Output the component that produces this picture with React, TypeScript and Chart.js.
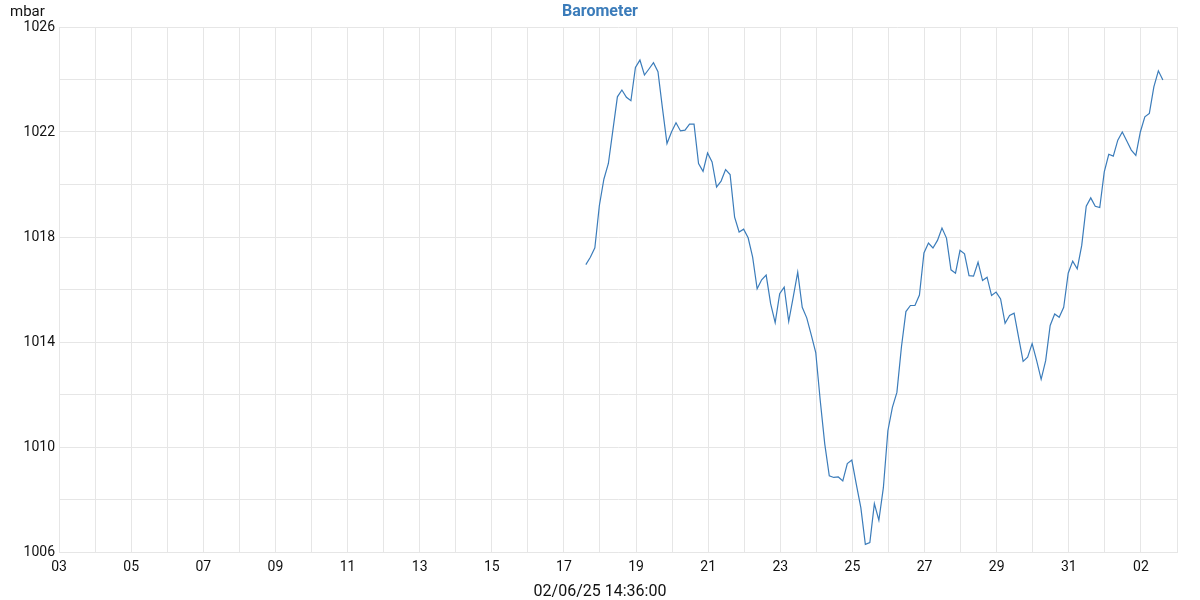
import { useEffect, useRef } from "react";
import { Chart, registerables } from "chart.js";

Chart.register(...registerables);

const TITLE = "Barometer";
const UNIT = "mbar";
const TIMESTAMP = "02/06/25 14:36:00";

// axis window: 3 May 2025 00:00 -> 3 June 2025 00:00
const AXIS_START = new Date(2025, 4, 3, 0, 0);
const AXIS_DAYS = 31;
// first reading and sampling interval
const FIRST_READING = new Date(2025, 4, 17, 14, 36);
const STEP_HOURS = 3;

const Y_MIN = 1006;
const Y_MAX = 1026;

// pressure readings (mbar), every 3 hours
const pressure = [
  1016.95, 1017.23, 1017.59, 1019.2, 1020.2, 1020.8, 1022.07, 1023.34, 1023.6, 1023.32,
  1023.19, 1024.46, 1024.74, 1024.17, 1024.4, 1024.64, 1024.3, 1022.9, 1021.56, 1022.0,
  1022.35, 1022.04, 1022.07, 1022.3, 1022.3, 1020.8, 1020.5, 1021.2, 1020.86, 1019.9,
  1020.13, 1020.57, 1020.38, 1018.76, 1018.19, 1018.3, 1017.97, 1017.23, 1016.03, 1016.37,
  1016.55, 1015.45, 1014.74, 1015.84, 1016.09, 1014.78, 1015.71, 1016.66, 1015.32, 1014.92,
  1014.27, 1013.6, 1011.76, 1010.11, 1008.9, 1008.84, 1008.86, 1008.71, 1009.37, 1009.5,
  1008.58, 1007.69, 1006.29, 1006.36, 1007.84, 1007.21, 1008.45, 1010.62, 1011.51, 1012.08,
  1013.8, 1015.16, 1015.39, 1015.39, 1015.79, 1017.39, 1017.77, 1017.58, 1017.87, 1018.34,
  1017.96, 1016.75, 1016.62, 1017.49, 1017.36, 1016.53, 1016.51, 1017.04, 1016.34, 1016.47,
  1015.77, 1015.9, 1015.64, 1014.71, 1015.01, 1015.1, 1014.18, 1013.26, 1013.42, 1013.94,
  1013.29, 1012.58, 1013.29, 1014.63, 1015.07, 1014.94, 1015.32, 1016.62, 1017.08, 1016.79,
  1017.68, 1019.17, 1019.49, 1019.17, 1019.12, 1020.48, 1021.15, 1021.08, 1021.69, 1022.0,
  1021.66, 1021.31, 1021.11, 1022.0, 1022.58, 1022.71, 1023.72, 1024.33, 1023.98,
];

const DAY_MS = 86400000;
const firstDay = (FIRST_READING.getTime() - AXIS_START.getTime()) / DAY_MS;
const points = pressure.map((v, i) => ({ x: firstDay + (i * STEP_HOURS) / 24, y: v }));

const LINE_COLOR = "#3b7cba";
const GRID_COLOR = "#e6e6e6";
const FONT = "Roboto, 'Noto Sans', sans-serif";

const textPlugin = {
  id: "texts",
  afterDraw(chart: any) {
    const ctx = chart.ctx;
    const w = chart.width;
    ctx.save();
    ctx.textBaseline = "middle";
    ctx.fillStyle = LINE_COLOR;
    ctx.font = `bold 16px ${FONT}`;
    ctx.textAlign = "center";
    ctx.fillText(TITLE, w / 2, 12);
    ctx.fillStyle = "#111";
    ctx.font = `15px ${FONT}`;
    ctx.textAlign = "left";
    ctx.fillText(UNIT, 10, 12);
    ctx.font = `16px ${FONT}`;
    ctx.textAlign = "center";
    ctx.fillText(TIMESTAMP, w / 2, 592);
    ctx.restore();
  },
};

export default function App() {
  const ref = useRef<HTMLCanvasElement | null>(null);
  useEffect(() => {
    if (!ref.current) return;
    const chart = new Chart(ref.current, {
      type: "line",
      data: {
        datasets: [
          {
            data: points,
            borderColor: LINE_COLOR,
            borderWidth: 1.2,
            pointRadius: 0,
            tension: 0,
            fill: false,
          },
        ],
      },
      options: {
        animation: false,
        responsive: false,
        maintainAspectRatio: false,
        layout: { padding: { top: 27, right: 23, left: 0, bottom: 0 } },
        plugins: { legend: { display: false }, tooltip: { enabled: false }, title: { display: false } },
        scales: {
          x: {
            type: "linear",
            min: 0,
            max: AXIS_DAYS,
            afterFit: (s: any) => {
              s.height = 48;
            },
            grid: { color: GRID_COLOR, drawTicks: false, lineWidth: 1 },
            border: { color: GRID_COLOR },
            ticks: {
              stepSize: 1,
              autoSkip: false,
              maxRotation: 0,
              padding: 7,
              color: "#111",
              font: { family: FONT, size: 14 },
              callback: (v: any) => {
                const n = Math.round(Number(v));
                if (n % 2 !== 0) return "";
                const d = new Date(AXIS_START.getTime() + n * DAY_MS + 3600000);
                return String(d.getDate()).padStart(2, "0");
              },
            },
          },
          y: {
            min: Y_MIN,
            max: Y_MAX,
            afterFit: (s: any) => {
              s.width = 59;
            },
            grid: { color: GRID_COLOR, drawTicks: false, lineWidth: 1 },
            border: { color: GRID_COLOR },
            ticks: {
              stepSize: 2,
              autoSkip: false,
              padding: 4,
              color: "#111",
              font: { family: FONT, size: 14 },
              callback: (v: any) => {
                const n = Math.round(Number(v));
                return (n - Y_MIN) % 4 === 0 ? String(n) : "";
              },
            },
          },
        },
      },
      plugins: [textPlugin],
    } as any);
    return () => chart.destroy();
  }, []);
  return (
    <div style={{ position: "fixed", left: 0, top: 0, width: 1200, height: 600, background: "#fff" }}>
      <canvas ref={ref} width={1200} height={600} style={{ width: 1200, height: 600 }} />
    </div>
  );
}
